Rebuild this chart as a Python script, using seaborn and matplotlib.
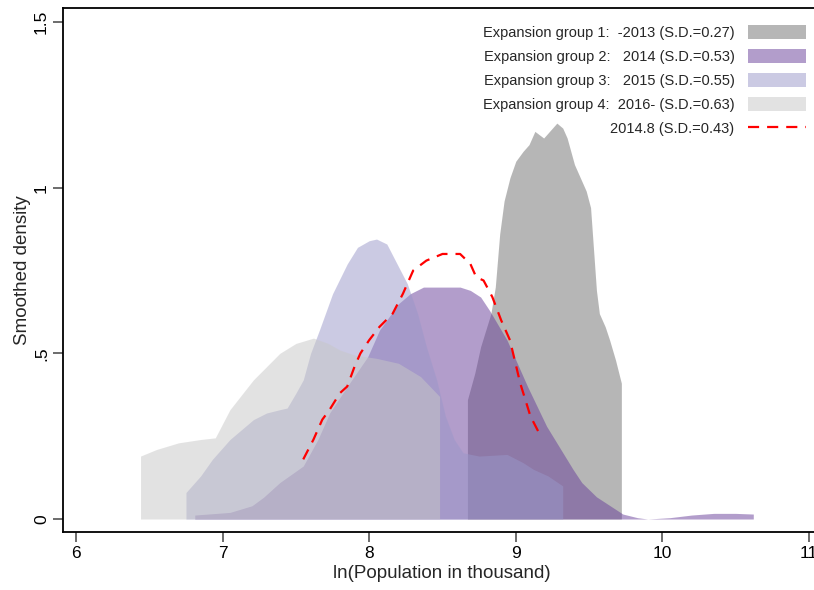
import numpy as np
import pandas as pd
import matplotlib
matplotlib.use("Agg")
import matplotlib.pyplot as plt
import seaborn as sns
from matplotlib.patches import Patch
from matplotlib.lines import Line2D

# ---------------- data ----------------
x_g1 = [8.67, 8.72, 8.76, 8.83, 8.86, 8.89, 8.92, 8.96, 9.00, 9.05, 9.09, 9.13, 9.16, 9.19,
        9.23, 9.28, 9.32, 9.35, 9.40, 9.44, 9.48, 9.51, 9.55, 9.57, 9.61, 9.64, 9.68, 9.72]
y_g1 = [0.36, 0.44, 0.52, 0.62, 0.70, 0.86, 0.96, 1.03, 1.08, 1.11, 1.13, 1.17, 1.16, 1.15,
        1.17, 1.195, 1.18, 1.15, 1.07, 1.03, 0.99, 0.94, 0.69, 0.62, 0.58, 0.54, 0.48, 0.41]

x_g2 = [6.81, 7.05, 7.20, 7.28, 7.39, 7.55, 7.65, 7.73, 7.85, 7.99, 8.07, 8.20, 8.28, 8.37,
        8.53, 8.62, 8.69, 8.76, 8.82, 8.94, 9.08, 9.21, 9.39, 9.45, 9.55, 9.73, 9.83, 9.90,
        10.05, 10.20, 10.35, 10.50, 10.62]
y_g2 = [0.012, 0.02, 0.04, 0.066, 0.11, 0.16, 0.24, 0.32, 0.40, 0.49, 0.57, 0.65, 0.68, 0.70,
        0.70, 0.70, 0.69, 0.67, 0.63, 0.54, 0.40, 0.28, 0.15, 0.11, 0.067, 0.015, 0.004, 0.0,
        0.004, 0.012, 0.017, 0.017, 0.015]

x_g3 = [6.75, 6.85, 6.93, 7.05, 7.21, 7.30, 7.39, 7.44, 7.50, 7.55, 7.60, 7.66, 7.75, 7.85,
        7.92, 8.00, 8.05, 8.12, 8.19, 8.26, 8.33, 8.39, 8.46, 8.52, 8.58, 8.64, 8.75, 8.94,
        9.05, 9.12, 9.22, 9.32]
y_g3 = [0.08, 0.13, 0.18, 0.24, 0.30, 0.32, 0.33, 0.335, 0.38, 0.42, 0.50, 0.57, 0.68, 0.77,
        0.82, 0.84, 0.845, 0.83, 0.77, 0.71, 0.62, 0.52, 0.42, 0.31, 0.24, 0.20, 0.19, 0.195,
        0.17, 0.15, 0.13, 0.10]

x_g4 = [6.44, 6.55, 6.70, 6.85, 6.95, 7.05, 7.21, 7.39, 7.50, 7.62, 7.72, 7.80, 7.90, 8.05,
        8.20, 8.35, 8.48]
y_g4 = [0.19, 0.21, 0.23, 0.24, 0.245, 0.33, 0.42, 0.50, 0.53, 0.546, 0.53, 0.51, 0.495, 0.485,
        0.47, 0.43, 0.37]

x_avg = [7.55, 7.62, 7.68, 7.73, 7.80, 7.85, 7.90, 7.94, 8.00, 8.07, 8.16, 8.23, 8.30, 8.39,
         8.50, 8.62, 8.69, 8.73, 8.78, 8.84, 8.90, 8.96, 9.03, 9.10, 9.17]
y_avg = [0.18, 0.24, 0.30, 0.33, 0.38, 0.40, 0.46, 0.50, 0.54, 0.58, 0.62, 0.68, 0.75, 0.78,
         0.80, 0.80, 0.77, 0.73, 0.72, 0.67, 0.60, 0.54, 0.41, 0.31, 0.25]

labels = ["Expansion group 1:  -2013 (S.D.=0.27)",
          "Expansion group 2:   2014 (S.D.=0.53)",
          "Expansion group 3:   2015 (S.D.=0.55)",
          "Expansion group 4:  2016- (S.D.=0.63)",
          "2014.8 (S.D.=0.43)"]
x_ticks = [6, 7, 8, 9, 10, 11]
y_ticks = [0, 0.5, 1, 1.5]
y_ticklabels = ["0", ".5", "1", "1.5"]

# ---------------- style ----------------
sns.set_style("ticks")
plt.rcParams['font.family'] = ['Liberation Sans', 'DejaVu Sans']

fill_colors = ["#6f6f6f", "#673d99", "#9997c9", "#c7c7c7"]
fill_alpha = 0.5

fig = plt.figure(figsize=(8.14, 5.90), dpi=100)
ax = fig.add_axes([63 / 814, 58 / 590, 757 / 814, 524 / 590])

series = [(x_g1, y_g1), (x_g2, y_g2), (x_g3, y_g3), (x_g4, y_g4)]
for (xs, ys), c in zip(series, fill_colors):
    ax.fill_between(xs, 0, ys, color=c, alpha=fill_alpha, linewidth=0)

df_avg = pd.DataFrame({"x": x_avg, "y": y_avg})
sns.lineplot(data=df_avg, x="x", y="y", ax=ax, color="red", linewidth=1.6,
             linestyle=(0, (5, 3.6)), sort=False, legend=False)

ax.set_xlim(5.9113, 11.075)
ax.set_ylim(-0.0392, 1.5424)
ax.set_xticks(x_ticks)
ax.set_yticks(y_ticks)
ax.set_yticklabels(y_ticklabels, rotation=90, va="center")
ax.tick_params(axis="both", direction="out", length=7, width=1.1, color="#444444",
               labelsize=12.5, pad=3, labelcolor="black")
for s in ax.spines.values():
    s.set_color("black")
    s.set_linewidth(1.3)

ax.set_xlabel("ln(Population in thousand)", fontsize=13.5, labelpad=3)
ax.set_ylabel("Smoothed density", fontsize=13.5, labelpad=2)

handles = [Patch(facecolor=c, alpha=fill_alpha, edgecolor="none") for c in fill_colors]
handles.append(Line2D([], [], color="red", linewidth=1.6, linestyle=(0, (5, 3.6))))
ax.legend(handles, labels, loc="upper right",
          bbox_to_anchor=(806 / 814, (590 - 25) / 590), bbox_transform=fig.transFigure,
          frameon=False, markerfirst=False, fontsize=10.5, handlelength=4.0,
          handleheight=1.1, handletextpad=0.9, labelspacing=0.62,
          borderpad=0, borderaxespad=0)

fig.savefig("out.png", dpi=100)
